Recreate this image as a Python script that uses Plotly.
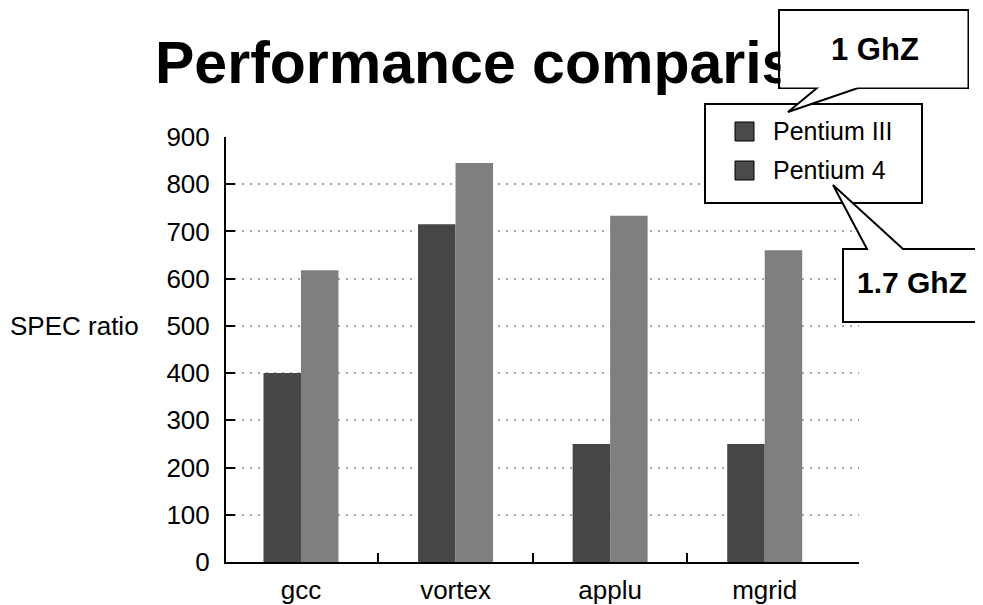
import plotly.graph_objects as go

# ---------------- data ----------------
categories = ["gcc", "vortex", "applu", "mgrid"]
pentium3 = [400, 715, 250, 250]
pentium4 = [618, 845, 733, 660]
series_names = ["Pentium III", "Pentium 4"]
y_ticks = [0, 100, 200, 300, 400, 500, 600, 700, 800, 900]
title_text = "Performance comparison"
y_label = "SPEC ratio"
callout_top = "1 GhZ"
callout_bottom = "1.7 GhZ"

# ---------------- layout helpers ----------------
# the page body has an 8px margin, so the figure is made 8px smaller and
# all reference-pixel positions are shifted by that offset.
OFF = 8
W, H = 983 - OFF, 605 - OFF
L, R, T, B = 226, 859, 137, 562          # plot area in reference pixels
FONT = "Liberation Sans, Arial, Helvetica, sans-serif"
DARK = "#464646"
LIGHT = "#7f7f7f"


def px(x):
    return (x - L) / (R - L)


def py(y):
    return (B - y) / (B - T)


def path(points):
    return "M " + " L ".join(f"{px(x):.5f},{py(y):.5f}" for x, y in points) + " Z"


fig = go.Figure()
fig.add_bar(x=categories, y=pentium3, name=series_names[0],
            marker=dict(color=DARK, line=dict(width=0)))
fig.add_bar(x=categories, y=pentium4, name=series_names[1],
            marker=dict(color=LIGHT, line=dict(width=0)))
# helper (empty) trace so the overlay axis carrying boundary ticks is drawn
fig.add_scatter(x=[], y=[], xaxis="x2", yaxis="y", showlegend=False, hoverinfo="skip")

xr = [-0.485, 3.61]
fig.update_layout(
    width=W, height=H, autosize=False,
    margin=dict(l=L - OFF, r=(W + OFF) - R, t=T - OFF, b=(H + OFF) - B, pad=0),
    paper_bgcolor="white", plot_bgcolor="white",
    showlegend=False,
    barmode="group", bargap=0.515, bargroupgap=0,
    font=dict(family=FONT, color="black", size=26),
    xaxis=dict(type="category", range=xr, showline=True, linecolor="black",
               linewidth=2, ticks="", showgrid=False, zeroline=False,
               automargin=False,
               tickfont=dict(size=26, family=FONT, color="black"),
               ticklabelstandoff=4),
    xaxis2=dict(overlaying="x", anchor="y", side="bottom", range=xr,
                tickmode="array", tickvals=[0.5, 1.5, 2.5, 3.609],
                ticks="inside", ticklen=9, tickwidth=2, tickcolor="black",
                showticklabels=False, showline=False, showgrid=False,
                zeroline=False, automargin=False),
    yaxis=dict(range=[0, 900], tickmode="array", tickvals=y_ticks,
               ticks="inside", ticklen=9, tickwidth=2, tickcolor="black",
               showline=True, linecolor="black", linewidth=2,
               showgrid=True, gridcolor="#a8a8a8", gridwidth=1.5,
               griddash="2px,6px", zeroline=False, automargin=False,
               tickfont=dict(size=26, family=FONT, color="black"),
               ticklabelstandoff=9),
)

shapes = []
# legend box
shapes.append(dict(type="rect", xref="paper", yref="paper",
                   x0=px(705), x1=px(922), y0=py(203), y1=py(104),
                   fillcolor="white", line=dict(color="black", width=2),
                   layer="above"))
# legend swatches (both dark in the original)
for (y0, y1) in [(122, 141), (161, 180)]:
    shapes.append(dict(type="rect", xref="paper", yref="paper",
                       x0=px(735), x1=px(754), y0=py(y1), y1=py(y0),
                       fillcolor="#4a4a4a", line=dict(color="black", width=1),
                       layer="above"))
# callout "1 GhZ"
shapes.append(dict(type="path", xref="paper", yref="paper",
                   path=path([(779, 10), (968, 10), (968, 88), (858, 88),
                              (788, 112), (817, 88), (779, 88)]),
                   fillcolor="white", line=dict(color="black", width=2),
                   layer="above"))
# callout "1.7 GhZ"
shapes.append(dict(type="path", xref="paper", yref="paper",
                   path=path([(843, 249), (867, 249), (833, 185), (903, 249),
                              (981, 249), (981, 322), (843, 322)]),
                   fillcolor="white", line=dict(color="black", width=2),
                   layer="above"))
fig.update_layout(shapes=shapes)

ann = []
ann.append(dict(xref="paper", yref="paper", x=px(153), y=py(63),
                xanchor="left", yanchor="middle", showarrow=False,
                text=f"<b>{title_text}</b>",
                font=dict(size=59, family=FONT, color="black")))
# white cover inside the first callout box (hides the end of the title)
ann.append(dict(xref="paper", yref="paper", x=px(873.5), y=py(49),
                xanchor="center", yanchor="middle", showarrow=False,
                text=" ", width=186, height=75, borderpad=0,
                bgcolor="white"))
ann.append(dict(xref="paper", yref="paper", x=px(875), y=py(49),
                xanchor="center", yanchor="middle", showarrow=False,
                text=f"<b>{callout_top}</b>",
                font=dict(size=31, family=FONT, color="black")))
ann.append(dict(xref="paper", yref="paper", x=px(912), y=py(282),
                xanchor="center", yanchor="middle", showarrow=False,
                text=f"<b>{callout_bottom}</b>",
                font=dict(size=30, family=FONT, color="black")))
for name, yc in zip(series_names, [131, 170]):
    ann.append(dict(xref="paper", yref="paper", x=px(771), y=py(yc),
                    xanchor="left", yanchor="middle", showarrow=False,
                    text=name, font=dict(size=25, family=FONT, color="black")))
ann.append(dict(xref="paper", yref="paper", x=px(8), y=py(326),
                xanchor="left", yanchor="middle", showarrow=False,
                text=y_label, font=dict(size=26, family=FONT, color="black")))
fig.update_layout(annotations=ann)

fig.write_html("out.html")
